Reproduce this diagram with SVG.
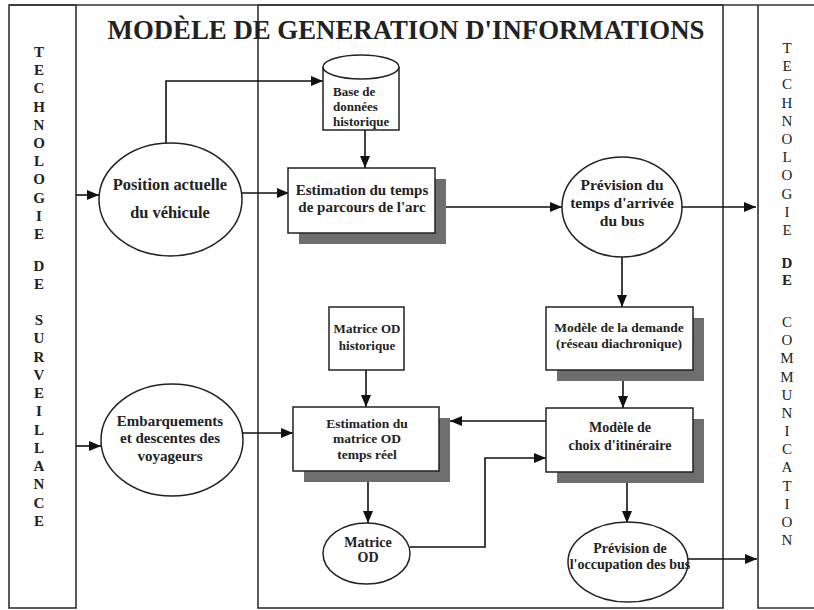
<svg xmlns="http://www.w3.org/2000/svg" width="814" height="610" viewBox="0 0 814 610">
<style>
.frame{fill:none;stroke:#333;stroke-width:1.6}
.node{fill:#fff;stroke:#222;stroke-width:1.5}
.shadow{fill:#6e6e6e;stroke:none}
.conn{fill:none;stroke:#111;stroke-width:1.6}
text{font-family:"Liberation Serif","Times New Roman",serif;font-weight:bold;fill:#222}
.c{text-anchor:middle}
.col{text-anchor:middle;font-size:15px}
.reg{font-weight:normal}
</style>
<defs>
<marker id="ah" markerUnits="userSpaceOnUse" markerWidth="12" markerHeight="10" refX="12" refY="5" orient="auto">
<path d="M0,0 L12,5 L0,10 z" fill="#111"/>
</marker>
</defs>
<rect width="814" height="610" fill="#fff"/>

<g id="frame">
<path class="frame" d="M9,5 H814"/>
<rect class="frame" x="9" y="5" width="67" height="603"/>
<rect class="frame" x="258" y="5" width="465" height="603"/>
<path class="frame" d="M758,5 V608 H814"/>
</g>

<g id="title">
<text class="c" x="406" y="39" font-size="26.8">MODÈLE DE GENERATION D'INFORMATIONS</text>
</g>

<g id="left-column">
<text class="col" x="39" y="57">T</text>
<text class="col" x="39" y="75">E</text>
<text class="col" x="39" y="93">C</text>
<text class="col" x="39" y="112">H</text>
<text class="col" x="39" y="130">N</text>
<text class="col" x="39" y="148">O</text>
<text class="col" x="39" y="166">L</text>
<text class="col" x="39" y="184">O</text>
<text class="col" x="39" y="203">G</text>
<text class="col" x="39" y="221">I</text>
<text class="col" x="39" y="239">E</text>
<text class="col" x="39" y="271">D</text>
<text class="col" x="39" y="289">E</text>
<text class="col" x="39" y="325">S</text>
<text class="col" x="39" y="343">U</text>
<text class="col" x="39" y="362">R</text>
<text class="col" x="39" y="380">V</text>
<text class="col" x="39" y="398">E</text>
<text class="col" x="39" y="416">I</text>
<text class="col" x="39" y="435">L</text>
<text class="col" x="39" y="453">L</text>
<text class="col" x="39" y="471">A</text>
<text class="col" x="39" y="489">N</text>
<text class="col" x="39" y="508">C</text>
<text class="col" x="39" y="526">E</text>
</g>

<g id="right-column">
<text class="col reg" x="787" y="53">T</text>
<text class="col reg" x="787" y="71">E</text>
<text class="col reg" x="787" y="89">C</text>
<text class="col reg" x="787" y="108">H</text>
<text class="col reg" x="787" y="126">N</text>
<text class="col reg" x="787" y="144">O</text>
<text class="col reg" x="787" y="162">L</text>
<text class="col reg" x="787" y="180">O</text>
<text class="col reg" x="787" y="199">G</text>
<text class="col reg" x="787" y="217">I</text>
<text class="col reg" x="787" y="235">E</text>
<text class="col" x="787" y="268">D</text>
<text class="col" x="787" y="285">E</text>
<text class="col reg" x="787" y="327">C</text>
<text class="col reg" x="787" y="345">O</text>
<text class="col reg" x="787" y="363">M</text>
<text class="col reg" x="787" y="382">M</text>
<text class="col reg" x="787" y="400">U</text>
<text class="col reg" x="787" y="418">N</text>
<text class="col reg" x="787" y="436">I</text>
<text class="col reg" x="787" y="454">C</text>
<text class="col reg" x="787" y="472">A</text>
<text class="col reg" x="787" y="491">T</text>
<text class="col reg" x="787" y="509">I</text>
<text class="col reg" x="787" y="527">O</text>
<text class="col reg" x="787" y="545">N</text>
</g>

<g id="connectors">
<path class="conn" d="M76,195 H99" marker-end="url(#ah)"/>
<path class="conn" d="M242,193 H289" marker-end="url(#ah)"/>
<path class="conn" d="M166,143 V81 H323" marker-end="url(#ah)"/>
<path class="conn" d="M365,130 V168" marker-end="url(#ah)"/>
<path class="conn" d="M446,207 H562" marker-end="url(#ah)"/>
<path class="conn" d="M682,207 H756" marker-end="url(#ah)"/>
<path class="conn" d="M622,257 V307" marker-end="url(#ah)"/>
<path class="conn" d="M623,380 V408" marker-end="url(#ah)"/>
<path class="conn" d="M546,421 H450" marker-end="url(#ah)"/>
<path class="conn" d="M410,547 H485 V458 H546" marker-end="url(#ah)"/>
<path class="conn" d="M627,482 V523" marker-end="url(#ah)"/>
<path class="conn" d="M688,559 H757" marker-end="url(#ah)"/>
<path class="conn" d="M366,370 V407" marker-end="url(#ah)"/>
<path class="conn" d="M76,446 H101" marker-end="url(#ah)"/>
<path class="conn" d="M243,433 H293" marker-end="url(#ah)"/>
<path class="conn" d="M368,482 V523" marker-end="url(#ah)"/>
</g>

<g id="position-actuelle">
<ellipse class="node" cx="170.5" cy="199.5" rx="71.5" ry="56.5"/>
<text class="c" x="170" y="190" font-size="16.4">Position actuelle</text>
<text class="c" x="170" y="218" font-size="16.4">du véhicule</text>
</g>

<g id="base-donnees">
<path class="node" d="M323,67 V130 H399 V67"/>
<ellipse class="node" cx="361" cy="67" rx="38" ry="12"/>
<text x="333" y="96" font-size="13">Base de</text>
<text x="333" y="111" font-size="13">données</text>
<text x="333" y="126" font-size="13">historique</text>
</g>

<g id="estimation-temps">
<rect class="shadow" x="299" y="179" width="147" height="65"/>
<rect class="node" x="288" y="168" width="147" height="65"/>
<text class="c" x="362" y="195" font-size="15">Estimation du temps</text>
<text class="c" x="362" y="212" font-size="15">de parcours de l'arc</text>
</g>

<g id="prevision-arrivee">
<ellipse class="node" cx="622" cy="207" rx="60" ry="50"/>
<text class="c" x="622" y="190" font-size="15.5">Prévision du</text>
<text class="c" x="622" y="208" font-size="15.5">temps d'arrivée</text>
<text class="c" x="622" y="226" font-size="15.5">du bus</text>
</g>

<g id="modele-demande">
<rect class="shadow" x="557" y="318" width="147" height="63"/>
<rect class="node" x="546" y="307" width="147" height="63"/>
<text class="c" x="619" y="332" font-size="13.5">Modèle de la demande</text>
<text class="c" x="619" y="348" font-size="13.5">(réseau diachronique)</text>
</g>

<g id="modele-choix">
<rect class="shadow" x="557" y="419" width="147" height="64"/>
<rect class="node" x="546" y="408" width="147" height="64"/>
<text class="c" x="620" y="432" font-size="14">Modèle de</text>
<text class="c" x="620" y="450" font-size="14">choix d'itinéraire</text>
</g>

<g id="matrice-od-historique">
<rect class="node" x="329" y="307" width="75" height="63"/>
<text class="c" x="367" y="333" font-size="13">Matrice OD</text>
<text class="c" x="367" y="350" font-size="13">historique</text>
</g>

<g id="estimation-matrice">
<rect class="shadow" x="304" y="418" width="146" height="64"/>
<rect class="node" x="293" y="407" width="146" height="64"/>
<text class="c" x="367" y="428" font-size="13.5">Estimation du</text>
<text class="c" x="367" y="443" font-size="13.5">matrice OD</text>
<text class="c" x="367" y="459" font-size="13.5">temps réel</text>
</g>

<g id="matrice-od">
<ellipse class="node" cx="366.5" cy="553.5" rx="43.5" ry="30.5"/>
<text class="c" x="368" y="547" font-size="14">Matrice</text>
<text class="c" x="368" y="562" font-size="14">OD</text>
</g>

<g id="embarquements">
<ellipse class="node" cx="172" cy="440" rx="71" ry="56"/>
<text class="c" x="170" y="426" font-size="15">Embarquements</text>
<text class="c" x="170" y="443" font-size="15">et descentes des</text>
<text class="c" x="170" y="461" font-size="15">voyageurs</text>
</g>

<g id="prevision-occupation">
<ellipse class="node" cx="628" cy="562" rx="60" ry="40"/>
<text class="c" x="630" y="553" font-size="14">Prévision de</text>
<text class="c" x="630" y="569" font-size="14">l'occupation des bus</text>
</g>
</svg>
